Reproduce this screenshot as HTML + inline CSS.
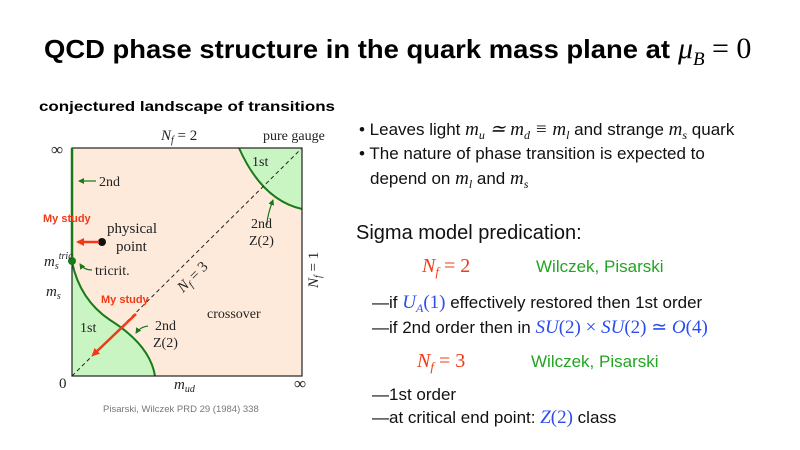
<!DOCTYPE html>
<html><head><meta charset="utf-8"><style>
html,body{margin:0;padding:0;background:#fff;}
svg{display:block;}
.s{font-family:"Liberation Serif",serif;}
.a{font-family:"Liberation Sans",sans-serif;}
</style></head><body>
<svg width="800" height="450" viewBox="0 0 800 450" xmlns="http://www.w3.org/2000/svg">
<defs>
<marker id="rh" markerWidth="8" markerHeight="8" refX="6" refY="4" orient="auto" markerUnits="userSpaceOnUse"><path d="M0,0 L8,4 L0,8 z" fill="#f03a17"/></marker>
<marker id="gh" markerWidth="6" markerHeight="6" refX="5" refY="3" orient="auto" markerUnits="userSpaceOnUse"><path d="M0,0 L6,3 L0,6 z" fill="#1a7a1a"/></marker>
</defs>
<text x="44" y="58" class="a" font-size="26" font-weight="bold" textLength="626" lengthAdjust="spacingAndGlyphs">QCD phase structure in the quark mass plane at</text>
<text x="678" y="58" class="s" font-size="30" font-style="italic">μ</text>
<text x="693" y="65" class="s" font-size="19" font-style="italic">B</text>
<text x="712" y="58" class="s" font-size="30">= 0</text>

<text x="39" y="111" class="a" font-size="14" font-weight="bold" textLength="296" lengthAdjust="spacingAndGlyphs">conjectured landscape of transitions</text>

<rect x="72" y="148" width="230" height="228" fill="#fdeadb"/>
<path d="M239,148 Q262,200 302,209 L302,148 Z" fill="#c9f5c3"/>
<path d="M72,262 Q80,300 110,320 Q150,345 155,376 L72,376 Z" fill="#c9f5c3"/>
<path d="M239,148 Q262,200 302,209" fill="none" stroke="#1a7a1a" stroke-width="2"/>
<path d="M72,262 Q80,300 110,320 Q150,345 155,376" fill="none" stroke="#1a7a1a" stroke-width="2"/>
<rect x="72" y="148" width="230" height="228" fill="none" stroke="#222" stroke-width="1.2"/>
<line x1="72" y1="148" x2="72" y2="262" stroke="#1a7a1a" stroke-width="2.5"/>
<line x1="72" y1="376" x2="301" y2="149" stroke="#222" stroke-width="1" stroke-dasharray="4,3"/>
<circle cx="72" cy="261" r="4" fill="#1a7a1a"/>
<circle cx="102" cy="242" r="4" fill="#111"/>
<line x1="99" y1="242" x2="78" y2="242" stroke="#f03a17" stroke-width="2.5" marker-end="url(#rh)"/>
<line x1="136" y1="314" x2="93" y2="355" stroke="#f03a17" stroke-width="2.5" marker-end="url(#rh)"/>
<line x1="96" y1="181" x2="79" y2="181" stroke="#1a7a1a" stroke-width="1.2" marker-end="url(#gh)"/>
<path d="M92,270 Q84,270 80,264" fill="none" stroke="#1a7a1a" stroke-width="1.2" marker-end="url(#gh)"/>
<path d="M148,326 Q140,327 136,333" fill="none" stroke="#1a7a1a" stroke-width="1.2" marker-end="url(#gh)"/>
<path d="M267,225 Q267,216 273,200" fill="none" stroke="#1a7a1a" stroke-width="1.2" marker-end="url(#gh)"/>

<g class="s" fill="#222">
<text x="161" y="140" font-size="15"><tspan font-style="italic">N</tspan><tspan font-size="10" font-style="italic" dy="3">f</tspan><tspan dy="-3"> = 2</tspan></text>
<text x="263" y="140" font-size="14">pure gauge</text>
<text x="51" y="155" font-size="17">∞</text>
<text x="294" y="389" font-size="17">∞</text>
<text x="59" y="388" font-size="15">0</text>
<text x="174" y="389" font-size="15" font-style="italic">m<tspan font-size="10" dy="3">ud</tspan></text>
<text x="44" y="266" font-size="15" font-style="italic">m<tspan font-size="10" dy="3">s</tspan><tspan font-size="10" dy="-10">tric</tspan></text>
<text x="46" y="296" font-size="15" font-style="italic">m<tspan font-size="10" dy="3">s</tspan></text>
<text x="99" y="186" font-size="14">2nd</text>
<text x="107" y="233" font-size="15">physical</text>
<text x="116" y="251" font-size="15">point</text>
<text x="95" y="275" font-size="14">tricrit.</text>
<text x="80" y="332" font-size="14">1st</text>
<text x="155" y="330" font-size="14">2nd</text>
<text x="153" y="347" font-size="14">Z(2)</text>
<text x="207" y="318" font-size="14">crossover</text>
<text x="252" y="166" font-size="14">1st</text>
<text x="251" y="228" font-size="14">2nd</text>
<text x="249" y="245" font-size="14">Z(2)</text>
<text transform="translate(183,293) rotate(-45)" font-size="15"><tspan font-style="italic">N</tspan><tspan font-size="10" font-style="italic" dy="3">f</tspan><tspan dy="-3"> = 3</tspan></text>
<text transform="translate(318,288) rotate(-90)" font-size="15"><tspan font-style="italic">N</tspan><tspan font-size="10" font-style="italic" dy="3">f</tspan><tspan dy="-3"> = 1</tspan></text>
</g>
<text x="43" y="222" class="a" font-size="11" font-weight="bold" fill="#f03a17">My study</text>
<text x="101" y="303" class="a" font-size="11" font-weight="bold" fill="#f03a17">My study</text>
<text x="103" y="412" class="a" font-size="9.5" fill="#777">Pisarski, Wilczek PRD 29 (1984) 338</text>

<g class="a" font-size="17" fill="#111">
<text x="359" y="135">• Leaves light <tspan class="s" font-style="italic" font-size="19">m<tspan font-size="12" dy="4">u</tspan><tspan dy="-4"> ≃ m</tspan><tspan font-size="12" dy="4">d</tspan><tspan dy="-4"> ≡ m</tspan><tspan font-size="12" dy="4">l</tspan></tspan><tspan dy="-4"> and strange </tspan><tspan class="s" font-style="italic" font-size="19">m<tspan font-size="12" dy="4">s</tspan></tspan><tspan dy="-4"> quark</tspan></text>
<text x="359" y="159">• The nature of phase transition is expected to</text>
<text x="370" y="184">depend on <tspan class="s" font-style="italic" font-size="19">m<tspan font-size="12" dy="4">l</tspan></tspan><tspan dy="-4"> and </tspan><tspan class="s" font-style="italic" font-size="19">m<tspan font-size="12" dy="4">s</tspan></tspan></text>
<text x="356" y="239" font-size="20">Sigma model predication:</text>
<text x="372" y="308">—if <tspan class="s" fill="#2a4cf0" font-size="19"><tspan font-style="italic">U</tspan><tspan font-size="12" font-style="italic" dy="4">A</tspan><tspan dy="-4">(1)</tspan></tspan> effectively restored then 1st order</text>
<text x="372" y="333">—if 2nd order then in <tspan class="s" fill="#2a4cf0" font-size="19" font-style="italic">SU<tspan font-style="normal">(2) × </tspan>SU<tspan font-style="normal">(2) ≃ </tspan>O<tspan font-style="normal">(4)</tspan></tspan></text>
<text x="372" y="400">—1st order</text>
<text x="372" y="423">—at critical end point:  <tspan class="s" fill="#2a4cf0" font-size="19"><tspan font-style="italic">Z</tspan>(2)</tspan> class</text>
</g>
<g class="s" font-size="20" fill="#f03a17">
<text x="422" y="272"><tspan font-style="italic">N</tspan><tspan font-size="13" font-style="italic" dy="4">f</tspan><tspan dy="-4"> = 2</tspan></text>
<text x="417" y="367"><tspan font-style="italic">N</tspan><tspan font-size="13" font-style="italic" dy="4">f</tspan><tspan dy="-4"> = 3</tspan></text>
</g>
<text x="536" y="272" class="a" font-size="17" fill="#22a522">Wilczek, Pisarski</text>
<text x="531" y="367" class="a" font-size="17" fill="#22a522">Wilczek, Pisarski</text>
</svg>
</body></html>
